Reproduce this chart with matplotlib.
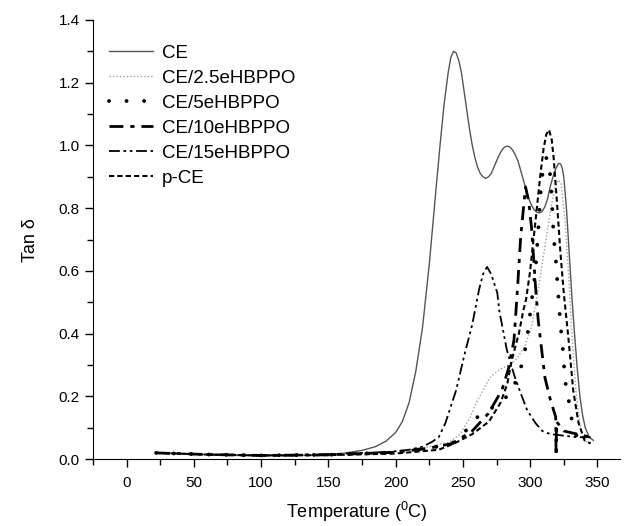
import matplotlib
matplotlib.use("Agg")
import matplotlib.pyplot as plt

plt.rcParams['font.family'] = ['Liberation Sans', 'DejaVu Sans']
plt.rcParams['mathtext.fontset'] = 'custom'
plt.rcParams['mathtext.rm'] = 'Liberation Sans'

# ---------------------------------------------------------------
# data (temperature in C, tan delta)
# ---------------------------------------------------------------
ce_T = [22, 40, 60, 80, 100, 120, 140, 160, 175, 185, 193, 200, 205, 210, 215, 220,
        225, 230, 233, 236, 239, 241, 243, 245, 247, 249, 251, 253, 255, 257, 259, 261,
        263, 265, 267, 269, 271, 273, 275, 277, 279, 281, 283, 285, 287, 289, 291, 293,
        295, 297, 299, 301, 303, 305, 307, 309, 311, 313, 315, 317, 319, 321, 322, 323,
        324, 325, 327, 329, 331, 333, 335, 337, 339, 341, 344, 347]
ce_v = [0.02, 0.018, 0.014, 0.012, 0.011, 0.011, 0.013, 0.018, 0.028, 0.040, 0.058,
        0.085, 0.12, 0.18, 0.28, 0.42, 0.62, 0.86, 1.00, 1.13, 1.23, 1.28, 1.30, 1.295,
        1.27, 1.23, 1.17, 1.11, 1.05, 1.00, 0.96, 0.93, 0.91, 0.90, 0.895, 0.90, 0.91,
        0.93, 0.95, 0.97, 0.985, 0.995, 0.998, 0.995, 0.985, 0.97, 0.95, 0.92, 0.89,
        0.86, 0.83, 0.81, 0.795, 0.787, 0.785, 0.79, 0.805, 0.83, 0.87, 0.90, 0.925,
        0.942, 0.943, 0.938, 0.925, 0.90, 0.80, 0.66, 0.52, 0.40, 0.29, 0.20, 0.14, 0.10,
        0.07, 0.06]

e25_T = [22, 60, 100, 150, 200, 225, 240, 248, 255, 260, 265, 270, 277, 284, 290,
         296, 301, 306, 310, 314, 318, 321, 323, 326, 329, 331, 334, 337, 340, 345]
e25_v = [0.02, 0.015, 0.012, 0.014, 0.025, 0.04, 0.055, 0.08, 0.13, 0.18, 0.22, 0.26,
         0.285, 0.30, 0.32, 0.36, 0.42, 0.54, 0.65, 0.76, 0.86, 0.89, 0.88, 0.76,
         0.56, 0.40, 0.22, 0.11, 0.06, 0.05]

e5_T = [22, 60, 100, 150, 200, 225, 242, 252, 262, 273, 280, 285.5, 291.6, 295,
        297.6, 301, 304, 306, 308, 310, 312, 314, 316, 317.5, 319, 320.5, 322.5, 324,
        326, 328.6, 330, 332, 335, 340]
e5_v = [0.02, 0.015, 0.012, 0.014, 0.022, 0.035, 0.05, 0.09, 0.14, 0.167, 0.19, 0.21,
        0.27, 0.32, 0.38, 0.50, 0.60, 0.73, 0.86, 0.94, 0.96, 0.955, 0.84, 0.71, 0.64,
        0.55, 0.43, 0.37, 0.25, 0.19, 0.15, 0.10, 0.07, 0.06]

e10_T = [22, 60, 100, 150, 200, 225, 242, 257, 269, 279, 284, 288, 290.4, 293, 296.6,
         299, 301, 302.7, 304, 306, 311, 315, 319, 319.3, 319.6, 325, 335, 345]
e10_v = [0.02, 0.015, 0.012, 0.014, 0.022, 0.035, 0.05, 0.09, 0.146, 0.22, 0.29, 0.38,
         0.53, 0.71, 0.868, 0.82, 0.74, 0.635, 0.55, 0.443, 0.26, 0.19, 0.135, 0.01,
         0.12, 0.09, 0.08, 0.07]

e15_T = [22, 60, 100, 150, 195, 210, 220, 227, 232, 237, 245, 251, 257, 262, 265, 268,
         271, 275.6, 277, 282.6, 288, 293, 297.8, 304, 309, 315, 325, 335, 345]
e15_v = [0.02, 0.015, 0.012, 0.016, 0.023, 0.03, 0.04, 0.055, 0.07, 0.115, 0.22, 0.33,
         0.43, 0.54, 0.59, 0.613, 0.59, 0.53, 0.475, 0.35, 0.27, 0.21, 0.156, 0.115,
         0.09, 0.08, 0.075, 0.07, 0.07]

pce_T = [22, 60, 100, 150, 200, 232, 243.5, 257, 269.4, 278, 283, 286.6, 291.6, 295,
         297, 300, 304, 307.7, 310, 312, 314, 316, 317.5, 320, 322.5, 325, 328.6, 332,
         336, 340.5, 345]
pce_v = [0.02, 0.015, 0.012, 0.013, 0.018, 0.03, 0.05, 0.08, 0.12, 0.18, 0.24, 0.32,
         0.40, 0.475, 0.51, 0.60, 0.76, 0.91, 0.99, 1.035, 1.05, 1.02, 0.96, 0.815, 0.66,
         0.53, 0.38, 0.22, 0.115, 0.06, 0.05]

# ---------------------------------------------------------------
# plot
# ---------------------------------------------------------------
fig = plt.figure(figsize=(6.24, 5.26), dpi=100)
ax = fig.add_axes([0.149, 0.127, 0.845, 0.835])

ax.plot(ce_T, ce_v, color='#555555', lw=1.0, ls='-', label='CE')
ax.plot(e25_T, e25_v, color='#a0a0a0', lw=1.0, ls=(0, (1, 1.5)), label='CE/2.5eHBPPO')
ax.plot(e5_T, e5_v, color='black', lw=2.8, ls=(0, (0.01, 4.5)),
        dash_capstyle='round', label='CE/5eHBPPO')
ax.plot(e10_T, e10_v, color='black', lw=2.0, ls=(0, (5, 2.5, 1.5, 2.5)), label='CE/10eHBPPO')
ax.plot(e15_T, e15_v, color='black', lw=1.3, ls=(0, (6, 2, 1.5, 2, 1.5, 2)), label='CE/15eHBPPO')
ax.plot(pce_T, pce_v, color='black', lw=1.5, ls=(0, (2.5, 1.5)), label='p-CE')

ax.set_xlim(-25, 367)
ax.set_ylim(0, 1.4)
ax.set_xticks(range(0, 351, 50))
ax.set_xticks(range(-25, 366, 25), minor=True)
ax.set_yticks([0.0, 0.2, 0.4, 0.6, 0.8, 1.0, 1.2, 1.4])
ax.set_yticks([0.1, 0.3, 0.5, 0.7, 0.9, 1.1, 1.3], minor=True)
ax.yaxis.set_major_formatter(plt.FormatStrFormatter('%.1f'))

for s in ['top', 'right']:
    ax.spines[s].set_visible(False)
ax.tick_params(which='major', direction='out', length=6, width=1, labelsize=11)
ax.tick_params(axis='x', which='major', pad=6)
ax.tick_params(which='minor', direction='out', length=4, width=1)

ax.set_xlabel('Temperature ($^0$C)', fontsize=13, labelpad=7)
ax.set_ylabel('Tan \u03b4', fontsize=13, labelpad=14)

ax.legend(loc='upper left', bbox_to_anchor=(0.01, 0.97), frameon=False, fontsize=13.5,
          handlelength=2.3, labelspacing=0.42, handletextpad=0.5, borderaxespad=0.2)

fig.savefig('out.png', dpi=100)
